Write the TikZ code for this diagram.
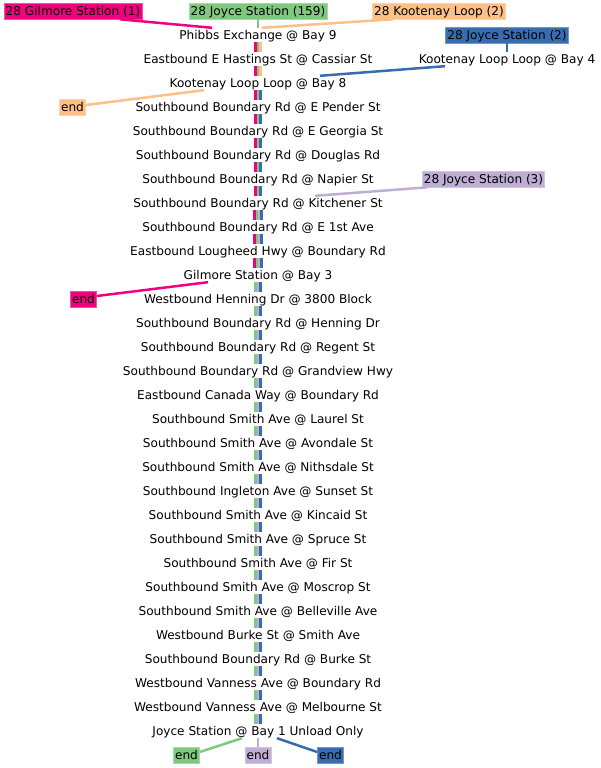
\documentclass[tikz,border=0pt]{standalone}
\usepackage{fontspec}
\setmainfont{DejaVu Sans}
\definecolor{cpink}{HTML}{F0027F}
\definecolor{cgreen}{HTML}{7FC97F}
\definecolor{corange}{HTML}{FDC086}
\definecolor{cblue}{HTML}{386CB0}
\definecolor{cpurple}{HTML}{BEAED4}
\begin{document}
\begin{tikzpicture}[x=1pt,y=-1pt,
  every node/.style={font=\fontsize{12.1}{14}\selectfont},
  stop/.style={inner xsep=0pt, inner ysep=1pt, text height=10.5pt, text depth=1.5pt},
  lbl/.style={fill=#1, draw=#1!70!white, line width=0.6pt, inner xsep=1.6pt, inner ysep=1.5pt, text height=11pt, text depth=2pt},
  bar/.style={line width=2.4pt, draw=#1},
  conn/.style={line width=2.5pt, draw=#1}]
\useasboundingbox (0,0) rectangle (600,768);
\fill[white] (0,0) rectangle (600,768);
\foreach \t [count=\i from 0] in {
Phibbs Exchange @ Bay 9,
Eastbound E Hastings St @ Cassiar St,
Kootenay Loop Loop @ Bay 8,
Southbound Boundary Rd @ E Pender St,
Southbound Boundary Rd @ E Georgia St,
Southbound Boundary Rd @ Douglas Rd,
Southbound Boundary Rd @ Napier St,
Southbound Boundary Rd @ Kitchener St,
Southbound Boundary Rd @ E 1st Ave,
Eastbound Lougheed Hwy @ Boundary Rd,
Gilmore Station @ Bay 3,
Westbound Henning Dr @ 3800 Block,
Southbound Boundary Rd @ Henning Dr,
Southbound Boundary Rd @ Regent St,
Southbound Boundary Rd @ Grandview Hwy,
Eastbound Canada Way @ Boundary Rd,
Southbound Smith Ave @ Laurel St,
Southbound Smith Ave @ Avondale St,
Southbound Smith Ave @ Nithsdale St,
Southbound Ingleton Ave @ Sunset St,
Southbound Smith Ave @ Kincaid St,
Southbound Smith Ave @ Spruce St,
Southbound Smith Ave @ Fir St,
Southbound Smith Ave @ Moscrop St,
Southbound Smith Ave @ Belleville Ave,
Westbound Burke St @ Smith Ave,
Southbound Boundary Rd @ Burke St,
Westbound Vanness Ave @ Boundary Rd,
Westbound Vanness Ave @ Melbourne St,
Joyce Station @ Bay 1 Unload Only}
  \node[stop] (s\i) at (258, {35+24*\i}) {\t};
\node[stop] (kb4) at (507,59) {Kootenay Loop Loop @ Bay 4};

% route labels
\node[lbl=cpink] (g1) at (73,11) {28 Gilmore Station (1)};
\node[lbl=cgreen] (j159) at (258,11) {28 Joyce Station (159)};
\node[lbl=corange] (k2) at (439,11) {28 Kootenay Loop (2)};
\node[lbl=cblue] (j2) at (507,35) {28 Joyce Station (2)};
\node[lbl=cpurple] (j3) at (483.5,179) {28 Joyce Station (3)};
\node[lbl=corange] (endO) at (72.5,107) {end};
\node[lbl=cpink] (endP) at (83.5,299) {end};
\node[lbl=cgreen] (endG) at (186.5,755) {end};
\node[lbl=cpurple] (endU) at (258,755) {end};
\node[lbl=cblue] (endB) at (330.5,755) {end};

% bars between stops
\foreach \k [evaluate=\k as \n using int(\k+1)] in {0,1}{
  \draw[bar=cpink] ([xshift=-2.4pt]s\k.south) -- ([xshift=-2.4pt]s\n.north);
  \draw[bar=cgreen] (s\k.south) -- (s\n.north);
  \draw[bar=corange] ([xshift=2.4pt]s\k.south) -- ([xshift=2.4pt]s\n.north);
}
\foreach \k [evaluate=\k as \n using int(\k+1)] in {2,...,6}{
  \draw[bar=cpink] ([xshift=-2.4pt]s\k.south) -- ([xshift=-2.4pt]s\n.north);
  \draw[bar=cgreen] (s\k.south) -- (s\n.north);
  \draw[bar=cblue] ([xshift=2.4pt]s\k.south) -- ([xshift=2.4pt]s\n.north);
}
\foreach \k [evaluate=\k as \n using int(\k+1)] in {7,8,9}{
  \draw[bar=cpink] ([xshift=-3.6pt]s\k.south) -- ([xshift=-3.6pt]s\n.north);
  \draw[bar=cgreen] ([xshift=-1.2pt]s\k.south) -- ([xshift=-1.2pt]s\n.north);
  \draw[bar=cpurple] ([xshift=1.2pt]s\k.south) -- ([xshift=1.2pt]s\n.north);
  \draw[bar=cblue] ([xshift=3.6pt]s\k.south) -- ([xshift=3.6pt]s\n.north);
}
\foreach \k [evaluate=\k as \n using int(\k+1)] in {10,...,28}{
  \draw[bar=cgreen] ([xshift=-2.4pt]s\k.south) -- ([xshift=-2.4pt]s\n.north);
  \draw[bar=cpurple] (s\k.south) -- (s\n.north);
  \draw[bar=cblue] ([xshift=2.4pt]s\k.south) -- ([xshift=2.4pt]s\n.north);
}

% connectors
\draw[conn=cpink] ([xshift=47pt]g1.south) -- ([xshift=-46pt]s0.north);
\draw[conn=cgreen] (j159.south) -- (s0.north);
\draw[conn=corange] ([xshift=-46pt]k2.south) -- ([xshift=4pt]s0.north);
\draw[conn=cblue] (j2.south) -- (kb4.north);
\draw[conn=cblue] ([xshift=-62pt]kb4.south) -- ([xshift=62pt]s2.north);
\draw[conn=corange] ([xshift=-54pt]s2.south) -- ([yshift=2pt]endO.east);
\draw[conn=cpurple] ([xshift=-56pt]j3.south) -- ([xshift=57pt]s7.north);
\draw[conn=cpink] ([xshift=-50pt]s10.south) -- ([yshift=3pt]endP.east);
\draw[conn=cgreen] ([xshift=-16pt]s29.south) -- ([yshift=3pt]endG.east);
\draw[conn=cpurple] (s29.south) -- (endU.north);
\draw[conn=cblue] ([xshift=19pt]s29.south) -- ([yshift=3pt]endB.west);
\end{tikzpicture}
\end{document}
